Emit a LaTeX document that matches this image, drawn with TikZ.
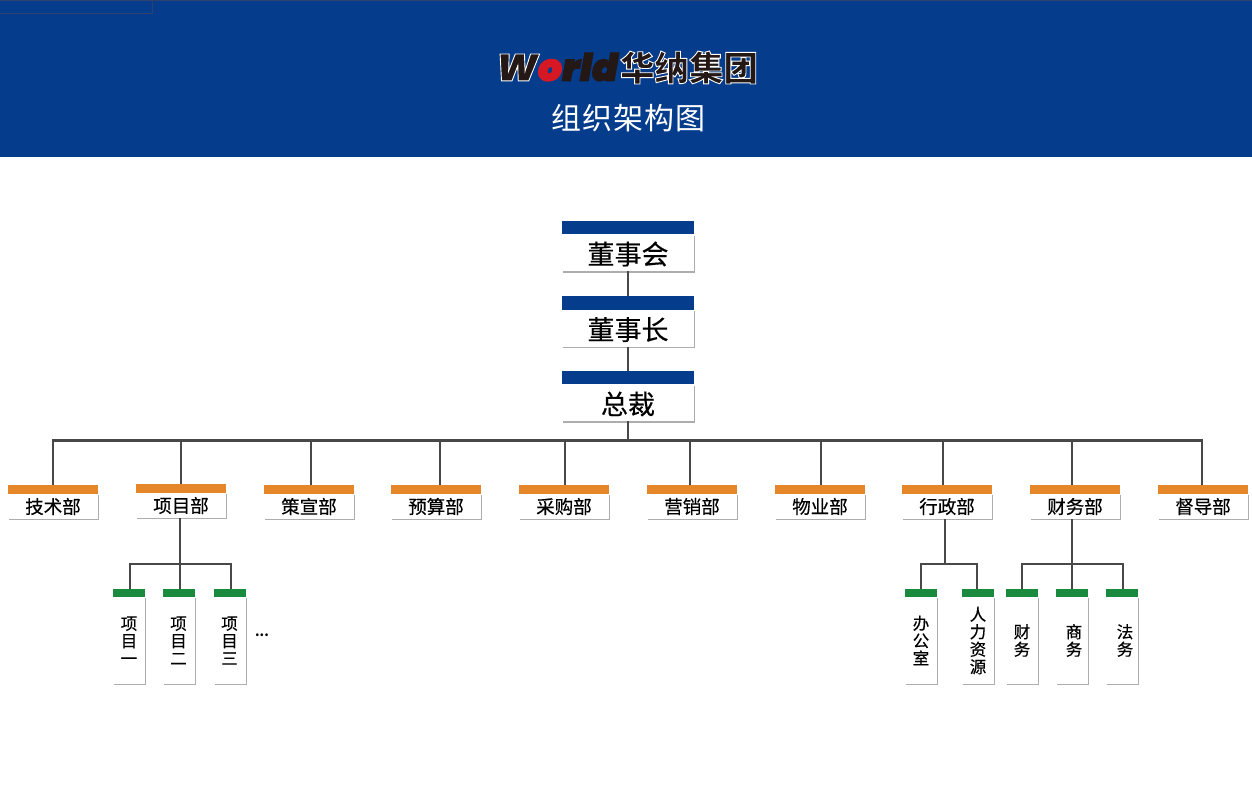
\documentclass[tikz,border=0pt]{standalone}
\usepackage{fontspec}
\setmainfont{Noto Sans CJK SC}
\newfontfamily\boxfont[FakeBold=0.35]{Noto Sans CJK SC}
\newfontfamily\logolatin{Poppins Black}
\usetikzlibrary{positioning,shadows}

\definecolor{navyband}{RGB}{5,60,140}
\definecolor{bandedge}{RGB}{45,65,110}
\definecolor{orangebar}{RGB}{229,134,40}
\definecolor{greenbar}{RGB}{26,138,62}
\definecolor{wireline}{RGB}{72,72,72}
\definecolor{logored}{RGB}{214,24,36}
\definecolor{logoblack}{RGB}{35,24,21}

\newcommand{\txtsize}[1]{\fontsize{#1}{#1}\selectfont}
\newcommand{\outlined}[2]{\special{pdf:code q 2 Tr #1 w 1 1 1 RG}#2\special{pdf:code Q}}

\tikzset{
  anybar/.style={inner sep=0pt, outer sep=0pt, minimum height=#1},
  anybody/.style={fill=white, inner sep=0pt, outer sep=0pt,
    drop shadow={shadow xshift=1.4pt, shadow yshift=-1.4pt, fill=black!32, opacity=1}},
  topbar/.style={anybar=13.5pt, fill=navyband, minimum width=132pt},
  topbody/.style={anybody, minimum width=132pt, minimum height=37pt, text height=23pt, text depth=0pt,
    font=\boxfont\txtsize{27}},
  deptbar/.style={anybar=9pt, fill=orangebar, minimum width=90pt},
  deptbody/.style={anybody, minimum width=90pt, minimum height=25pt, font=\boxfont\txtsize{18.5}},
  subbar/.style={anybar=8pt, fill=greenbar, minimum width=32pt},
  subbody/.style={anybody, minimum width=32pt, minimum height=87pt, align=center,
    font=\boxfont\fontsize{16.5}{17.5}\selectfont},
  wire/.style={draw=wireline, line width=1.7pt},
  buswire/.style={draw=wireline, line width=3pt},
}

\begin{document}
\begin{tikzpicture}[x=1pt,y=-1pt]
\useasboundingbox (0,0) rectangle (1252,806);

% banner
\fill [navyband] (0,0) rectangle (1252,156.5);
\draw [bandedge, line width=0.8pt] (0,0.4) -- (1252,0.4);
\draw [bandedge, line width=0.8pt] (0,13.5) -- (152.5,13.5) -- (152.5,0);

\node [inner sep=0pt, text=logoblack] (logoworld) at (557,67)
  {\logolatin\itshape\txtsize{38}\outlined{0.9}{W\textcolor{logored}{o}rld}};
\node [inner sep=0pt, text=logoblack] (logoname) at (689,67.5)
  {\bfseries\txtsize{34.5}\outlined{0.9}{华纳集团}};
\node [inner sep=0pt, text=white, font=\txtsize{30}] (charttitle) at (628.5,118)
  {\addfontfeature{LetterSpace=3.5}组织架构图};

% top of the chart
\node [topbar] (board-bar) at (628,227.5) {};
\node [topbody, below=0pt of board-bar] (board) {董事会};
\node [topbar] (chair-bar) at (628,303) {};
\node [topbody, below=0pt of chair-bar] (chair) {董事长};
\node [topbar] (ceo-bar) at (628,377.5) {};
\node [topbody, below=0pt of ceo-bar] (ceo) {总裁};

\draw [wire] (board) -- (chair-bar);
\draw [wire] (chair) -- (ceo-bar);

\coordinate (bus) at (628,440);
\draw [wire] (ceo) -- (bus);

% departments
\foreach \dept/\x/\y/\dropx/\deptname in {tech/53/489.5/53/技术部,
    project/181/488.5/181/项目部, plan/309/489.5/311/策宣部,
    budget/436/489.5/440/预算部, purchase/564/489.5/565/采购部, sales/692/489.5/690/营销部,
    estate/820/489.5/821/物业部, admin/947/489.5/943/行政部, finance/1075/489.5/1072/财务部,
    audit/1203/489.5/1202/督导部}
{
  \coordinate (\dept-drop) at (\dropx,440);
  \node [deptbar] (\dept-bar) at (\x,\y) {};
  \node [deptbody, below=0pt of \dept-bar] (\dept) {\deptname};
  \draw [wire] (\dept-drop) -- (\dept-bar.north -| \dept-drop);
}
\draw [buswire] ([xshift=-0.8pt]tech-drop) -- ([xshift=0.8pt]audit-drop);

% sub units
\foreach \unit/\x/\unitname in {itemone/129/项\\目\\一,
    itemtwo/178.5/项\\目\\二, itemthree/229.5/项\\目\\三,
    office/921/办\\公\\室, staff/978/人\\力\\资\\源, accounts/1022/财\\务,
    business/1072/\hspace*{4pt}商\\\hspace*{4pt}务, legal/1122/\hspace*{6pt}法\\\hspace*{6pt}务}
{
  \node [subbar] (\unit-bar) at (\x,593) {};
  \node [subbody, below=0pt of \unit-bar] (\unit) {\unitname};
}

\node [inner sep=0pt, font=\bfseries\txtsize{13}] (moreitems) at (262,635) {...};

% project branch
\coordinate (project-fork) at (180,564);
\coordinate (item-left) at (130,564);
\coordinate (item-right) at (231,564);
\draw [wire] (project.south -| project-fork) -- (project-fork);
\draw [wire] (itemone-bar.north -| item-left) -- (item-left) -- (item-right) -- (itemthree-bar.north -| item-right);
\draw [wire] (project-fork) -- (itemtwo-bar.north -| project-fork);

% admin branch
\coordinate (admin-fork) at (945,564);
\coordinate (admin-left) at (921,564);
\coordinate (admin-right) at (977,564);
\draw [wire] (admin.south -| admin-fork) -- (admin-fork);
\draw [wire] (office-bar.north -| admin-left) -- (admin-left) -- (admin-right) -- (staff-bar.north -| admin-right);

% finance branch
\coordinate (finance-fork) at (1072,564);
\coordinate (finance-left) at (1022,564);
\coordinate (finance-right) at (1123,564);
\draw [wire] (finance.south -| finance-fork) -- (finance-fork);
\draw [wire] (accounts-bar.north -| finance-left) -- (finance-left) -- (finance-right) -- (legal-bar.north -| finance-right);
\draw [wire] (finance-fork) -- (business-bar.north -| finance-fork);

\end{tikzpicture}
\end{document}
